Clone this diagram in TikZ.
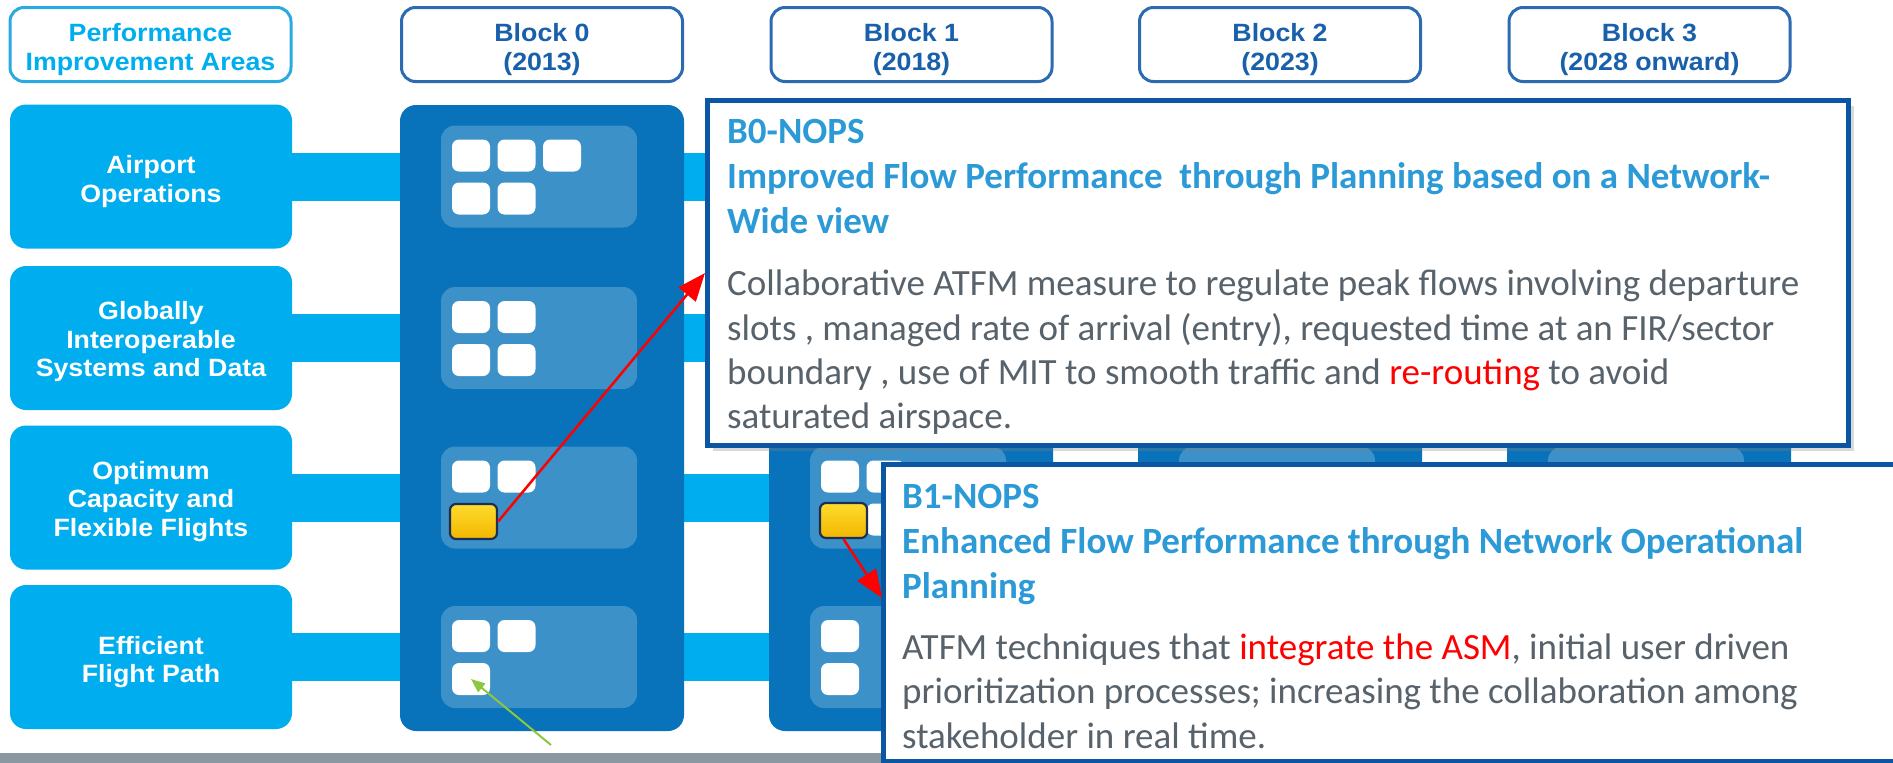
\documentclass[tikz,border=0pt]{standalone}
\usepackage{fontspec}
\setmainfont{Carlito}
\newfontfamily\roundfont[FakeStretch=1.07]{Liberation Sans}
\usetikzlibrary{arrows.meta,shadows}

\definecolor{areacyan}{HTML}{00AEEF}
\definecolor{piacyan}{HTML}{2BAAE2}
\definecolor{colblue}{HTML}{0872BA}
\definecolor{panelblue}{HTML}{3C91C9}
\definecolor{headblue}{HTML}{2C6AB1}
\definecolor{headtext}{HTML}{1960AA}
\definecolor{callline}{HTML}{0B56A3}
\definecolor{titleblue}{HTML}{2B9AD6}
\definecolor{bodygray}{HTML}{58626B}
\definecolor{footgray}{HTML}{8C98A1}
\definecolor{goldA}{HTML}{FFDC2E}
\definecolor{goldB}{HTML}{F2B600}
\definecolor{navy}{HTML}{1B2F55}
\definecolor{leafgreen}{HTML}{8DC63F}
\definecolor{alertred}{HTML}{FF0000}

\tikzset{
  headbox/.style={draw=headblue, line width=3pt, fill=white, rounded corners=14pt,
    minimum width=281pt, minimum height=74pt, inner sep=0pt},
  piabox/.style={headbox, draw=piacyan},
  boxtext/.style={inner sep=0pt, align=center,
    font=\roundfont\bfseries\fontsize{25}{28.5}\selectfont},
  areabox/.style={fill=areacyan, rounded corners=16pt, minimum width=282pt,
    minimum height=144pt, inner sep=0pt},
  rowbar/.style={draw=areacyan, line width=48pt},
  column/.style={fill=colblue, rounded corners=16pt, minimum width=284pt,
    minimum height=626pt, inner sep=0pt},
  panel/.style={fill=panelblue, rounded corners=14pt, minimum width=196pt,
    minimum height=102pt, inner sep=0pt},
  tile/.style={fill=white, rounded corners=7pt, minimum width=38pt,
    minimum height=32pt, inner sep=0pt},
  goldtile/.style={draw=navy, line width=2.2pt, top color=goldA, bottom color=goldB,
    rounded corners=6pt, minimum width=47pt, minimum height=35pt, inner sep=0pt},
  callout/.style={draw=callline, line width=5pt, fill=white, inner sep=0pt,
    drop shadow={shadow xshift=5pt, shadow yshift=-5pt, opacity=0.3}},
  ctitle/.style={anchor=base west, inner sep=0pt, text=titleblue,
    font=\bfseries\fontsize{37}{44}\selectfont},
  cbody/.style={anchor=base west, inner sep=0pt, text=bodygray,
    font=\fontsize{37}{44}\selectfont},
  pointer/.style={draw=alertred, line width=2.5pt, -{Triangle[length=28pt,width=22pt]}},
  hint/.style={draw=leafgreen, line width=2pt, -{Triangle[length=14pt,width=11pt]}},
}

\begin{document}
\begin{tikzpicture}[x=1pt,y=-1pt]
\useasboundingbox (0,0) rectangle (1893,763);
\clip (0,0) rectangle (1893,763);

% performance improvement areas
\node[areabox] (area0) at (151,176.5) {};
\node[areabox] (area1) at (151,338) {};
\node[areabox] (area2) at (151,497.5) {};
\node[areabox] (area3) at (151,657) {};
\node[boxtext, text=white] (area0-text) at ([yshift=-5pt]area0.center) {Airport\\Operations};
\node[boxtext, text=white] (area1-text) at ([yshift=-4pt]area1.center) {Globally\\Interoperable\\Systems and Data};
\node[boxtext, text=white] (area2-text) at ([yshift=-4pt]area2.center) {Optimum\\Capacity and\\Flexible Flights};
\node[boxtext, text=white] (area3-text) at ([yshift=-5pt]area3.center) {Efficient\\Flight Path};

% row bars running behind the block columns
\coordinate (barend) at (1790,0);
\foreach \r in {0,...,3}
  \draw[rowbar] (area\r.east) -- (barend |- area\r.east);

% block columns with their module panels
\foreach \c/\xl in {0/400,1/769,2/1138,3/1507} {
  \node[column] (col\c) at (\xl+142,418) {};
  \foreach \r/\yc in {0/176.5,1/338,2/497.5,3/657}
    \node[panel] (pan\c-\r) at (\xl+139,\yc) {};
}

% modules of block 0
\foreach \r/\yc/\cells in {0/176.5/{0/0,1/0,2/0,0/1,1/1},
                           1/338/{0/0,1/0,0/1,1/1},
                           2/497.5/{0/0,1/0},
                           3/657/{0/0,1/0,0/1}}
  \foreach \i/\j in \cells
    \node[tile] (tile0-\r-\i-\j) at (471+45.5*\i,\yc-21+43*\j) {};

% modules of block 1
\foreach \r/\yc/\cells in {2/497.5/{0/0,1/0,1/1}, 3/657/{0/0,0/1}}
  \foreach \i/\j in \cells
    \node[tile] (tile1-\r-\i-\j) at (840+45.5*\i,\yc-21+43*\j) {};

% highlighted NOPS modules
\node[goldtile] (gold0) at (473.5,521.5) {};
\node[goldtile] (gold1) at (843.5,520.5) {};

% footer strip
\fill[footgray] (0,753) rectangle (1893,763);

% column headers
\node[piabox] (pia) at (150.5,44.5) {};
\node[headbox] (blk0) at (542,44.5) {};
\node[headbox] (blk1) at (911.5,44.5) {};
\node[headbox] (blk2) at (1280,44.5) {};
\node[headbox] (blk3) at (1649.5,44.5) {};
\node[boxtext, text=areacyan] (pia-text) at ([yshift=-5pt]pia.center) {Performance\\Improvement Areas};
\node[boxtext, text=headtext] (blk0-text) at ([yshift=-5pt]blk0.center) {Block 0\\(2013)};
\node[boxtext, text=headtext] (blk1-text) at ([yshift=-5pt]blk1.center) {Block 1\\(2018)};
\node[boxtext, text=headtext] (blk2-text) at ([yshift=-5pt]blk2.center) {Block 2\\(2023)};
\node[boxtext, text=headtext] (blk3-text) at ([yshift=-5pt]blk3.center) {Block 3\\(2028 onward)};

% B0-NOPS description
\node[callout, minimum width=1141pt, minimum height=345pt] (noteB0) at (1278,273) {};
\node[ctitle] (a1) at (727,143) {B0-NOPS};
\node[ctitle] (a2) at (727,188) {Improved Flow Performance\ \ through Planning based on a Network-};
\node[ctitle] (a3) at (727,233) {Wide view};
\node[cbody] (a4) at (727,295) {Collaborative ATFM measure to regulate peak flows involving departure};
\node[cbody] (a5) at (727,340) {slots , managed rate of arrival (entry), requested time at an FIR/sector};
\node[cbody] (a6) at (727,384) {boundary , use of MIT to smooth traffic and {\color{alertred}re-routing} to avoid};
\node[cbody] (a7) at (727,428) {saturated airspace.};

% B1-NOPS description
\node[callout, minimum width=1041pt, minimum height=296.5pt] (noteB1) at (1404,612.75) {};
\node[ctitle] (b1) at (902,508) {B1-NOPS};
\node[ctitle] (b2) at (902,553) {Enhanced Flow Performance through Network Operational};
\node[ctitle] (b3) at (902,598) {Planning};
\node[cbody] (b4) at (902,659) {ATFM techniques that {\color{alertred}integrate the ASM}, initial user driven};
\node[cbody] (b5) at (902,703) {prioritization processes; increasing the collaboration among};
\node[cbody] (b6) at (902,748) {stakeholder in real time.};

% pointers
\coordinate (tipB1) at (882,598);
\coordinate (greentail) at (551,745);
\draw[pointer] (gold0.east) -- (noteB0.west);
\draw[pointer] (gold1.south) -- (tipB1);
\draw[hint] (greentail) -- (tile0-3-0-1.center);
\end{tikzpicture}
\end{document}
